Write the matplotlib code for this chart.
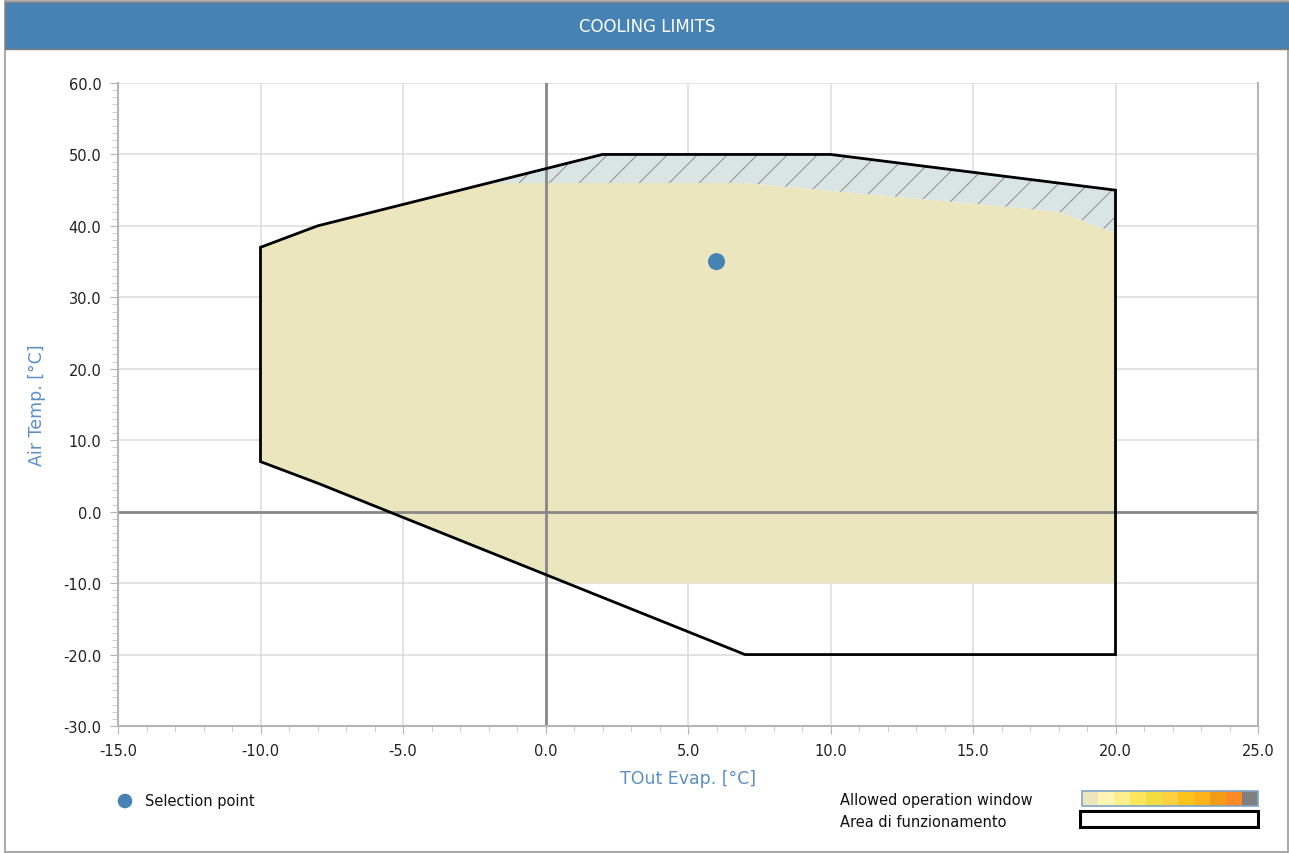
import matplotlib
matplotlib.use("Agg")
import matplotlib.pyplot as plt
import numpy as np
from matplotlib.patches import Polygon, Rectangle
from matplotlib.collections import LineCollection
from matplotlib.ticker import MultipleLocator, FormatStrFormatter

# ---- data ----
area_x = [-10, -8, 2, 10, 20, 20, 7, -8, -10]          # Area di funzionamento (black outline)
area_y = [37, 40, 50, 50, 45, -20, -20, 4, 7]
window_x = [-10, -8, -2, 7, 18, 20, 20, 0.75, -8, -10]  # Allowed operation window (beige)
window_y = [37, 40, 46, 46, 42, 39, -10, -10, 4, 7]
hatch_x = [-2, 2, 10, 20, 20, 18, 7]                    # upper hatched band
hatch_y = [46, 50, 50, 45, 39, 42, 46]
sel_x = [6]
sel_y = [35]
swatch_colors = ["#ece6bf", "#fef4b4", "#fdee8e", "#fbe55a", "#f3dc3f", "#fdd041",
                 "#fdc31d", "#fcb41a", "#f39d17", "#fb8a22", "#808080"]
xticks = [-15.0, -10.0, -5.0, 0.0, 5.0, 10.0, 15.0, 20.0, 25.0]
yticks = [-30.0, -20.0, -10.0, 0.0, 10.0, 20.0, 30.0, 40.0, 50.0, 60.0]

W, H = 1289, 854
fig = plt.figure(figsize=(W / 100, H / 100), dpi=100)
fig.patch.set_facecolor("white")

def fx(px):
    return px / W

def fy(py):
    return 1 - py / H

# outer frame and title bar
fig.patches.append(Rectangle((fx(5), fy(853)), fx(1283), 851 / H, transform=fig.transFigure,
                             facecolor="none", edgecolor="#9a9a9a", lw=1.2))
fig.patches.append(Rectangle((fx(5), fy(50)), fx(1284), 47 / H, transform=fig.transFigure,
                             facecolor="#4682b4", edgecolor="#7f7f7f", lw=1.0))
fig.text(fx(647), fy(27), "COOLING LIMITS", color="white", fontsize=12,
         ha="center", va="center")

ax = fig.add_axes([fx(118), fy(727), fx(1258) - fx(118), fy(84) - fy(727)])
ax.set_xlim(-15, 25)
ax.set_ylim(-30, 60)
ax.set_xticks(xticks)
ax.set_yticks(yticks)
ax.xaxis.set_minor_locator(MultipleLocator(1))
ax.yaxis.set_minor_locator(MultipleLocator(1))
ax.xaxis.set_major_formatter(FormatStrFormatter("%.1f"))
ax.yaxis.set_major_formatter(FormatStrFormatter("%.1f"))
ax.tick_params(which="major", length=6, color="#b5b5b5", labelsize=10.5, labelcolor="#222222", pad=6)
ax.tick_params(which="minor", length=4.5, color="#c8c8c8")
ax.grid(True, which="major", color="#dedede", lw=1.2)
ax.set_axisbelow(True)
for s in ["left", "bottom", "right"]:
    ax.spines[s].set_color("#b5b5b5")
    ax.spines[s].set_linewidth(1.5)
ax.spines["top"].set_visible(False)

# zero axes
ax.axhline(0, color="#888888", lw=2, zorder=1.5)
ax.axvline(0, color="#888888", lw=2, zorder=1.5)

# allowed window
ax.add_patch(Polygon(np.column_stack([window_x, window_y]), closed=True,
                     facecolor="#ece6be", edgecolor="none", zorder=1))
# hatched band
hpatch = Polygon(np.column_stack([hatch_x, hatch_y]), closed=True,
                 facecolor="#d9e5e5", edgecolor="none", zorder=1)
ax.add_patch(hpatch)
# hatch lines at 45 degrees in pixel space
fig.canvas.draw()
p0 = ax.transData.transform((0, 0))
p1 = ax.transData.transform((1, 1))
ppx, ppy = p1[0] - p0[0], p1[1] - p0[1]
k = ppx / ppy
step = 30 / ppx
segs = []
for b in np.arange(-10, 30, step):
    segs.append([(b, 35), (b + 20 / k, 55)])
lc = LineCollection(segs, colors="#8c8c8c", linewidths=0.7, zorder=1.2)
lc.set_clip_path(hpatch)
ax.add_collection(lc)

# operating area outline
ax.add_patch(Polygon(np.column_stack([area_x, area_y]), closed=True,
                     facecolor="none", edgecolor="black", lw=2.0, zorder=3))

# selection point
ax.scatter(sel_x, sel_y, s=150, color="#4682b4", zorder=4, edgecolors="none")

ax.set_xlabel("TOut Evap. [°C]", color="#5b8fc6", fontsize=12.5, labelpad=8)
ax.set_ylabel("Air Temp. [°C]", color="#5b8fc6", fontsize=12.5, labelpad=12)

# legend (bottom)
leg_ax = fig.add_axes([0, 0, 1, 1], facecolor="none")
leg_ax.set_xlim(0, W)
leg_ax.set_ylim(H, 0)
leg_ax.axis("off")
leg_ax.scatter([125], [802], s=110, color="#4682b4", edgecolors="none")
leg_ax.text(145, 802, "Selection point", fontsize=10.5, va="center", ha="left", color="#111111")
leg_ax.text(840, 801, "Allowed operation window", fontsize=10.5, va="center", ha="left", color="#111111")
leg_ax.text(840, 823, "Area di funzionamento", fontsize=10.5, va="center", ha="left", color="#111111")
x0, x1 = 1082, 1258
cw = (x1 - x0) / len(swatch_colors)
for i, c in enumerate(swatch_colors):
    leg_ax.add_patch(Rectangle((x0 + i * cw, 792), cw, 15, facecolor=c, edgecolor="none"))
leg_ax.add_patch(Rectangle((x0, 792), x1 - x0, 15, facecolor="none", edgecolor="#7fa4c9", lw=1.2))
leg_ax.add_patch(Rectangle((1080, 812), 1258 - 1080, 16, facecolor="white", edgecolor="black", lw=2.2))

fig.savefig("out.png", dpi=100, facecolor="white")
